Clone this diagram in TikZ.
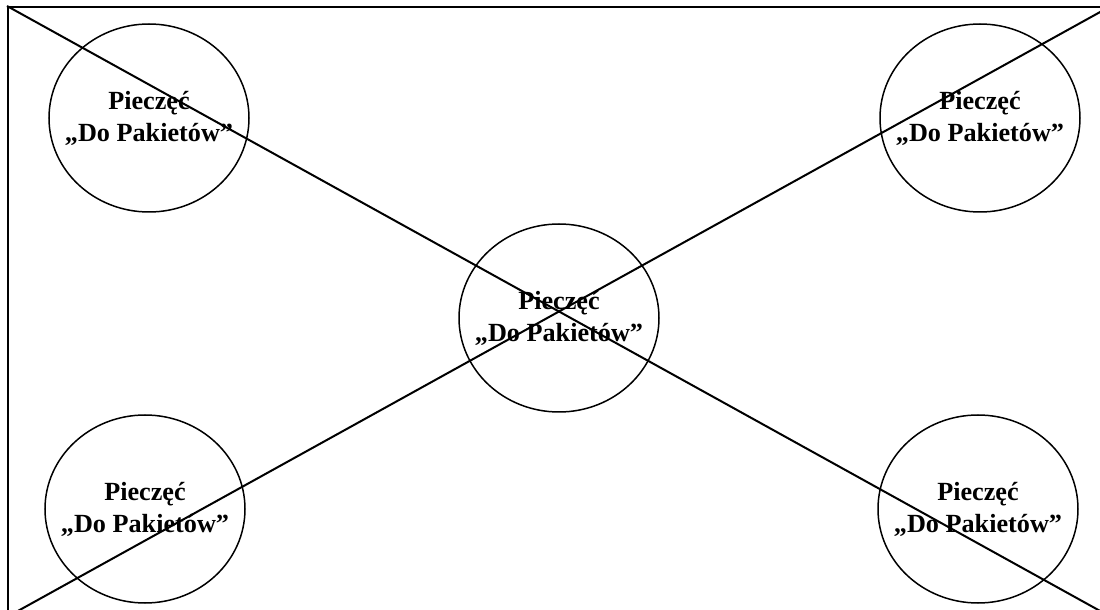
\documentclass[tikz,border=0pt]{standalone}
\usepackage{fontspec}
\setmainfont{Liberation Serif}
\usetikzlibrary{shapes.geometric}
\tikzset{
  sheet/.style={
    draw,
    rectangle,
    inner sep=0pt,
    line width=1pt
  },
  stamp/.style={
    draw,
    ellipse,
    minimum width=100pt,
    minimum height=94pt,
    inner sep=0pt,
    line width=0.75pt,
    label={[stamptext]center:Pieczęć\\„Do Pakietów”}
  },
  stamptext/.style={
    align=center,
    inner sep=0pt,
    font=\bfseries\fontsize{13.1pt}{16pt}\selectfont
  },
  cross/.style={line width=1pt}
}

\begin{document}
\begin{tikzpicture}[x=0.5pt, y=-0.5pt]
  \useasboundingbox (0,0) rectangle (1100,610);
  \node[sheet, minimum width=551pt, minimum height=304.5pt] (page) at (559,311.5) {};

  \node[stamp] (stampnw) at (149,118) {};
  \node[stamp] (stampne) at (980,118) {};
  \node[stamp] (stampc) at (559,318) {};
  \node[stamp] (stampsw) at (145,509) {};
  \node[stamp] (stampse) at (978,509) {};

  \draw[cross] (page.north west) -- (page.south east);
  \draw[cross] (page.south west) -- (page.north east);
\end{tikzpicture}
\end{document}
